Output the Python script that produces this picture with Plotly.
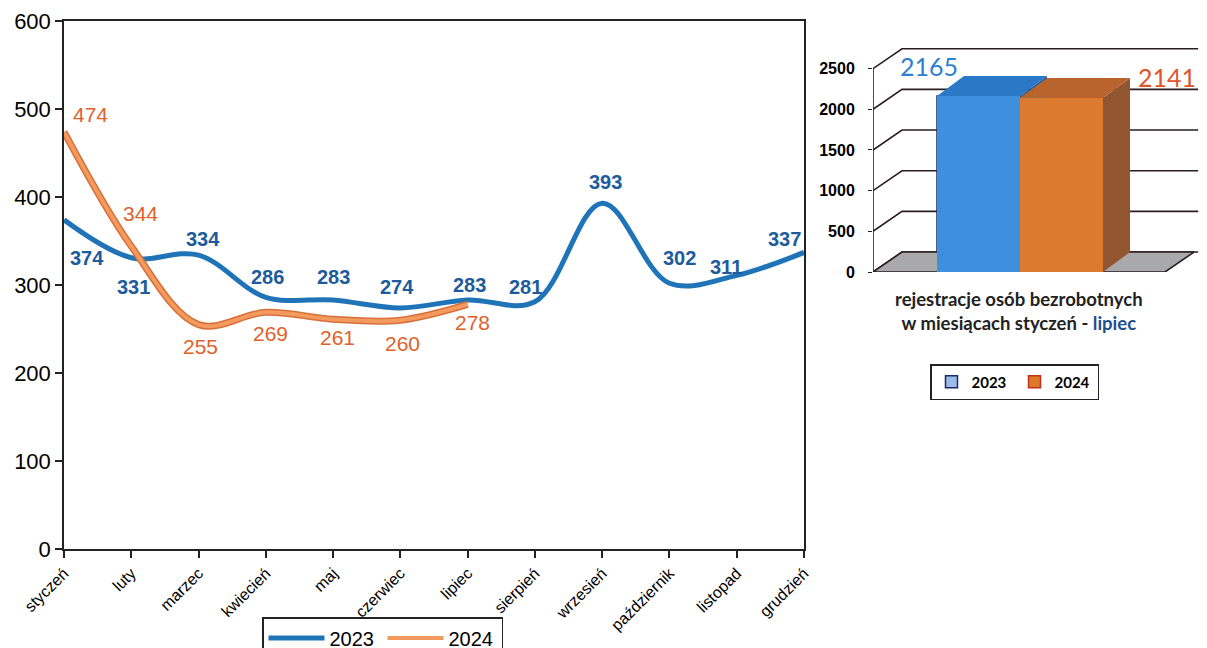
import plotly.graph_objects as go

# --- data -------------------------------------------------------------
months = ["styczeń", "luty", "marzec", "kwiecień", "maj", "czerwiec", "lipiec",
          "sierpień", "wrzesień", "październik", "listopad", "grudzień"]
values_2023 = [374, 331, 334, 286, 283, 274, 283, 281, 393, 302, 311, 337]
values_2024 = [474, 344, 255, 269, 261, 260, 278]
line_ticks = [0, 100, 200, 300, 400, 500, 600]

bar_years = ["2023", "2024"]
bar_totals = [2165, 2141]
bar_ticks = [0, 500, 1000, 1500, 2000, 2500]

# label offsets from each point (px, +y = down)
off_2023 = [(23, 38), (2, 29), (4, -16), (2, -20), (0, -23), (-3, -21),
            (2, -15), (-9, -15), (3, -21), (10, -25), (-11, -8), (-20, -13)]
off_2024 = [(26, -17), (9, -33), (2, 22), (5, 21), (4, 18), (2, 23), (5, 18)]

W, H = 1207, 648
PAD = 8  # page margin around the figure


def px(x):
    return (x - PAD) / W


def py(y):
    return 1 - (y - PAD) / H


BLUE = "#1f74b8"
ORANGE = "#f39a5e"

fig = go.Figure()

# legend entries for the bar chart (drawn first so faces cover them)
legend_fill = ["#9dbbe8", "#dd7a2a"]
legend_edge = ["#1a2a6a", "#c0301a"]
for i, v in enumerate(bar_totals):
    fig.add_trace(go.Bar(
        x=[i], y=[v], width=1.0, name=bar_years[i], marker_color=legend_fill[i],
        marker_line=dict(width=1.5, color=legend_edge[i]),
        xaxis="x2", yaxis="y2", legend="legend2"))

# --- left: line chart -------------------------------------------------
fig.add_trace(go.Scatter(
    x=months, y=values_2023, mode="lines", name="2023",
    line=dict(color=BLUE, width=5, shape="spline", smoothing=1.0),
    legend="legend"))
# darker edge of the 2024 line
fig.add_trace(go.Scatter(
    x=months[:len(values_2024)], y=values_2024, mode="lines", showlegend=False,
    line=dict(color="#d8703a", width=7, shape="spline", smoothing=1.0)))
fig.add_trace(go.Scatter(
    x=months[:len(values_2024)], y=values_2024, mode="lines", name="2024",
    line=dict(color=ORANGE, width=4, shape="spline", smoothing=1.0),
    legend="legend"))

for m, v, (dx, dyy) in zip(months, values_2023, off_2023):
    fig.add_annotation(x=m, y=v, text=str(v), showarrow=False, xshift=dx, yshift=-dyy,
                       font=dict(family="Liberation Sans", size=20, color="#1d5c9c",
                                 weight="bold"))
for m, v, (dx, dyy) in zip(months, values_2024, off_2024):
    fig.add_annotation(x=m, y=v, text=str(v), showarrow=False, xshift=dx, yshift=-dyy,
                       font=dict(family="Liberation Sans", size=21, color="#e0622a"))

# --- right: pseudo 3D bar chart ---------------------------------------
unit = 83.0                   # px per x unit
xl = -0.5 - (937 - 873) / unit
xr = xl + (1165 - 873) / unit
wdx, bdx = 29 / unit, 27 / unit   # depth offsets in x units (wall, bars)
dy = 245                      # depth offset in value units
line_col = "#2b1d22"

# back-wall grid lines
for v in bar_ticks:
    fig.add_trace(go.Scatter(
        x=[xl, xl + wdx, xr + wdx + 0.05], y=[v, v + dy, v + dy], mode="lines",
        line=dict(color=line_col, width=1.6), xaxis="x2", yaxis="y2",
        showlegend=False))
# floor
fig.add_trace(go.Scatter(
    x=[xl, xl + wdx, xr + wdx, xr, xl], y=[0, dy, dy, 0, 0], mode="lines",
    fill="toself", fillcolor="#a9a9ab", line=dict(color=line_col, width=1.6),
    xaxis="x2", yaxis="y2", showlegend=False))
# front vertical axis line
fig.add_trace(go.Scatter(
    x=[xl, xl], y=[0, bar_ticks[-1]], mode="lines",
    line=dict(color=line_col, width=1.6), xaxis="x2", yaxis="y2", showlegend=False))

front_cols = ["#3f8fdf", "#dc7a30"]
top_cols = ["#2a78c6", "#b8642c"]
side_cols = ["#1f5f9f", "#915530"]
for i, v in enumerate(bar_totals):
    x0, x1 = i - 0.5, i + 0.5
    fig.add_trace(go.Scatter(   # side face
        x=[x1, x1, x1 + bdx, x1 + bdx, x1], y=[0, v, v + dy, dy, 0], mode="lines",
        fill="toself", fillcolor=side_cols[i], line=dict(width=0),
        xaxis="x2", yaxis="y2", showlegend=False))
    fig.add_trace(go.Scatter(   # top face
        x=[x0, x0 + bdx, x1 + bdx, x1, x0], y=[v, v + dy, v + dy, v, v], mode="lines",
        fill="toself", fillcolor=top_cols[i], line=dict(width=0),
        xaxis="x2", yaxis="y2", showlegend=False))
    fig.add_trace(go.Scatter(   # front face
        x=[x0, x0, x1, x1, x0], y=[0, v, v, 0, 0], mode="lines",
        fill="toself", fillcolor=front_cols[i], line=dict(width=0),
        xaxis="x2", yaxis="y2", showlegend=False))

# bar value labels
fig.add_annotation(
    x=-0.5 + bdx, y=bar_totals[0] + dy, xref="x2", yref="y2", showarrow=False,
    text=str(bar_totals[0]), xanchor="right", yanchor="middle", xshift=-4, yshift=10,
    font=dict(family="Lato", size=25, color="#2f7fd0"))
fig.add_annotation(
    x=1.5 + bdx, y=bar_totals[1] + dy, xref="x2", yref="y2", showarrow=False,
    text=str(bar_totals[1]), xanchor="left", yanchor="middle", xshift=6, yshift=1,
    font=dict(family="Lato", size=25, color="#e0552a"))

fig.add_annotation(
    x=px(1019), y=py(311), xref="paper", yref="paper", showarrow=False,
    xanchor="center", yanchor="middle", align="center",
    text="rejestracje osób bezrobotnych<br>w miesiącach styczeń - <span style='color:#1d4f8f'>lipiec</span>",
    font=dict(family="Lato", size=18.5, color="#222222", weight="bold"))

fig.update_layout(
    width=W, height=H, margin=dict(l=0, r=0, t=0, b=0, autoexpand=False),
    paper_bgcolor="white", plot_bgcolor="rgba(0,0,0,0)",
    hovermode=False, barmode="overlay",
    font=dict(family="Liberation Sans", color="black"),
    xaxis=dict(domain=[px(64), px(804)], range=[0, len(months) - 1], automargin=False,
               showline=True, linecolor="#222", linewidth=1.5, mirror=True,
               ticks="outside", ticklen=7, tickcolor="#222", tickwidth=1.5,
               tickangle=-45, tickfont=dict(size=16), showgrid=False, zeroline=False),
    yaxis=dict(domain=[py(549), py(21)], range=[0, 600], tickvals=line_ticks,
               automargin=False,
               showline=True, linecolor="#222", linewidth=1.5, mirror=True,
               ticks="outside", ticklen=7, tickcolor="#222", tickwidth=1.5,
               tickfont=dict(size=22), showgrid=False, zeroline=False),
    xaxis2=dict(domain=[px(873), px(1199)], range=[xl, xl + (1199 - 873) / unit],
                visible=False, anchor="y2", automargin=False),
    yaxis2=dict(domain=[py(272), py(47.5)], range=[0, 2760], anchor="x2",
                tickvals=bar_ticks, ticks="outside", ticklen=4, tickcolor=line_col,
                ticklabelstandoff=10,
                showgrid=False, zeroline=False, showline=False, automargin=False,
                tickfont=dict(size=16, weight="bold")),
    legend=dict(orientation="h", x=px(262), y=py(617), xanchor="left",
                yanchor="top", font=dict(size=20), bgcolor="white",
                bordercolor="#222", borderwidth=1.5, itemwidth=56, entrywidth=48),
    legend2=dict(orientation="h", x=px(930), y=py(364), xanchor="left",
                 yanchor="top", font=dict(family="Lato", size=15, weight="bold"),
                 bgcolor="white", bordercolor="#222", borderwidth=1.5,
                 entrywidth=38, tracegroupgap=0),
)

fig.write_html("out.html")
